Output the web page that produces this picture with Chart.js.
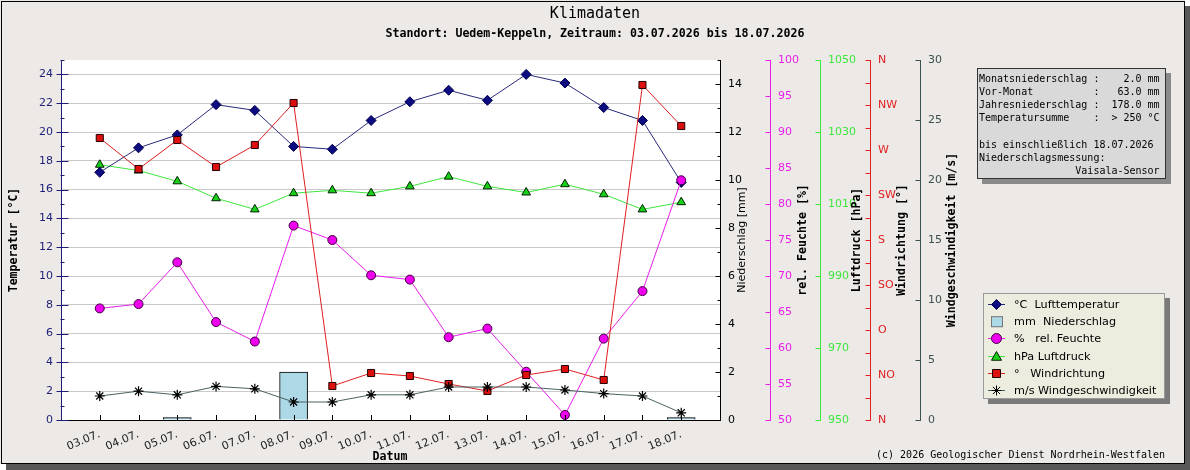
<!DOCTYPE html>
<html lang="de">
<head>
<meta charset="utf-8">
<title>Klimadaten</title>
<script src="https://cdn.jsdelivr.net/npm/chart.js@4.4.1/dist/chart.umd.min.js"></script>
<style>
  html, body { margin: 0; padding: 0; background: #fff; }
  #wrap { width: 1190px; height: 470px; }
</style>
</head>
<body>
<div id="wrap"><canvas id="klima" width="1190" height="470"></canvas></div>
<script>
// Tage
const tage = ["03.07.", "04.07.", "05.07.", "06.07.", "07.07.", "08.07.", "09.07.", "10.07.",
  "11.07.", "12.07.", "13.07.", "14.07.", "15.07.", "16.07.", "17.07.", "18.07."];

// Messwerte
const lufttemperatur = [17.2, 18.9, 19.8, 21.9, 21.5, 19.0, 18.8, 20.8, 22.1, 22.9, 22.2, 24.0, 23.4, 21.7, 20.8, 16.5];
const niederschlag = [0, 0, 0.1, 0, 0, 2.0, 0, 0, 0, 0, 0, 0, 0, 0, 0, 0.1];
const feuchte = [65.5, 66.1, 71.9, 63.6, 60.9, 77.0, 75.0, 70.1, 69.5, 61.5, 62.7, 56.7, 50.7, 61.3, 67.9, 83.3];
const luftdruck = [1020.9, 1019.3, 1016.3, 1011.6, 1008.5, 1013.0, 1013.8, 1013.0, 1014.9, 1017.6, 1014.9, 1013.2, 1015.5, 1012.7, 1008.5, 1010.5];
const windrichtung = [282, 251, 280, 253, 275, 317, 34, 47, 44, 36, 29, 45, 51, 40, 335, 294];
const windgeschw = [2.0, 2.4, 2.1, 2.8, 2.6, 1.5, 1.5, 2.1, 2.1, 2.75, 2.75, 2.75, 2.5, 2.2, 2.0, 0.6];

// Achsenbeschriftung Windrichtung
const richtungen = ["N", "NO", "O", "SO", "S", "SW", "W", "NW", "N"];

// Textkasten oben rechts
const infoZeilen = [
  "Monatsniederschlag :    2.0 mm",
  "Vor-Monat          :   63.0 mm",
  "Jahresniederschlag :  178.0 mm",
  "Temperatursumme    :  > 250 °C",
  "",
  "bis einschließlich 18.07.2026",
  "Niederschlagsmessung:",
  "                Vaisala-Sensor"
];

const MONO = '"DejaVu Sans Mono", "Liberation Mono", monospace';
const SANS = '"DejaVu Sans", Verdana, sans-serif';

//Farben
const cTemp = "#0c0c80";
const cFeuchte = "#e81ee8";
const cDruck = "#3ee63e";
const cRichtung = "#e02020";
const cWind = "#3c5050";

//Punkte als {x,y}, x = Tag 1..16
const punkte = (werte) => werte.map((v, i) => ({ x: i + 1, y: v }));

//kleine Zeichenhilfe fuer die Legendensymbole
function marker(ctx, style, x, y, r) {
  ctx.beginPath();
  if (style === "rectRot") {
    ctx.moveTo(x, y - r); ctx.lineTo(x + r, y); ctx.lineTo(x, y + r); ctx.lineTo(x - r, y);
    ctx.closePath(); ctx.fill(); ctx.stroke();
  } else if (style === "circle") {
    ctx.arc(x, y, r, 0, Math.PI * 2); ctx.fill(); ctx.stroke();
  } else if (style === "triangle") {
    ctx.moveTo(x, y - r); ctx.lineTo(x + r, y + r * 0.75); ctx.lineTo(x - r, y + r * 0.75);
    ctx.closePath(); ctx.fill(); ctx.stroke();
  } else if (style === "rect") {
    ctx.rect(x - r, y - r, 2 * r, 2 * r); ctx.fill(); ctx.stroke();
  } else if (style === "star") {
    ctx.moveTo(x - r, y); ctx.lineTo(x + r, y);
    ctx.moveTo(x, y - r); ctx.lineTo(x, y + r);
    const d = r * 0.72;
    ctx.moveTo(x - d, y - d); ctx.lineTo(x + d, y + d);
    ctx.moveTo(x - d, y + d); ctx.lineTo(x + d, y - d);
    ctx.stroke();
  }
}

function kasten(ctx, x, y, w, h, fill, border, shadow) {
  ctx.fillStyle = shadow;
  ctx.fillRect(x + 5, y + 5, w, h);
  ctx.fillStyle = fill;
  ctx.fillRect(x, y, w, h);
  ctx.strokeStyle = border;
  ctx.lineWidth = 1;
  ctx.strokeRect(x + 0.5, y + 0.5, w - 1, h - 1);
}

function senkrecht(ctx, text, x, y, font) {
  ctx.save();
  ctx.translate(x, y);
  ctx.rotate(-Math.PI / 2);
  ctx.font = font;
  ctx.fillStyle = "#000";
  ctx.textAlign = "center";
  ctx.textBaseline = "middle";
  ctx.fillText(text, 0, 0);
  ctx.restore();
}

const rahmen = {
  id: "rahmen",
  beforeDraw(chart) {
    const ctx = chart.ctx;
    const a = chart.chartArea;
    ctx.save();
    ctx.fillStyle = "#ffffff";
    ctx.fillRect(0, 0, 1190, 470);
    ctx.fillStyle = "#585858";
    ctx.fillRect(6, 6, 1184, 464);
    ctx.fillStyle = "#ece9e7";
    ctx.fillRect(0, 0, 1185, 464);
    ctx.strokeStyle = "#000";
    ctx.lineWidth = 1;
    ctx.strokeRect(1.5, 1.5, 1183, 462);
    ctx.fillStyle = "#ffffff";
    ctx.fillRect(a.left, a.top, a.right - a.left, a.bottom - a.top);
    ctx.restore();
  },
  afterDraw(chart) {
    const ctx = chart.ctx;
    const s = chart.scales;
    ctx.save();
    ctx.lineWidth = 1;

    //Teilstriche
    const striche = (scale, color, lang, kurz) => {
      ctx.strokeStyle = color;
      scale.ticks.forEach((t) => {
        const y = Math.round(scale.getPixelForValue(t.value)) + 0.5;
        const x0 = Math.round(scale.left) + 0.5;
        const l = t.label === "" ? kurz : lang;
        ctx.beginPath();
        ctx.moveTo(x0 - l, y);
        ctx.lineTo(x0, y);
        ctx.stroke();
      });
    };
    //linke Achse: Striche nach innen
    ctx.strokeStyle = "#1e1e78";
    s.yT.ticks.forEach((t) => {
      const y = Math.round(s.yT.getPixelForValue(t.value)) + 0.5;
      const x0 = Math.round(s.yT.right) - 0.5;
      ctx.beginPath();
      if (t.label === "") { ctx.moveTo(x0, y); ctx.lineTo(x0 + 4, y); }
      else { ctx.moveTo(x0 - 4, y); ctx.lineTo(x0 + 8, y); }
      ctx.stroke();
    });
    striche(s.yR, "#000", 5, 3);
    striche(s.yH, cFeuchte, 5, 5);
    striche(s.yP, cDruck, 5, 5);
    striche(s.yD, cRichtung, 5, 5);
    striche(s.yS, cWind, 5, 5);
    //x-Achse: Striche nach oben
    ctx.strokeStyle = "#000";
    tage.forEach((_, i) => {
      const x = Math.round(s.x.getPixelForValue(i + 1)) + 0.5;
      ctx.beginPath();
      ctx.moveTo(x, s.x.top);
      ctx.lineTo(x, s.x.top - 5);
      ctx.stroke();
    });

    //Achsentitel
    const fett = "bold 11.6px " + MONO;
    senkrecht(ctx, "Temperatur [°C]", 14, 240, fett);
    senkrecht(ctx, "Niederschlag [mm]", 742, 240, "11px " + SANS);
    senkrecht(ctx, "rel. Feuchte [%]", 803, 240, fett);
    senkrecht(ctx, "Luftdruck [hPa]", 857, 240, fett);
    senkrecht(ctx, "Windrichtung [°]", 902, 240, fett);
    senkrecht(ctx, "Windgeschwindigkeit [m/s]", 952, 240, fett);
    ctx.font = fett;
    ctx.fillStyle = "#000";
    ctx.textAlign = "center";
    ctx.textBaseline = "middle";
    ctx.fillText("Datum", 390, 457);

    //Titel
    ctx.font = "15px " + MONO;
    ctx.fillText("Klimadaten", 595, 14);
    ctx.font = fett;
    ctx.fillText("Standort: Uedem-Keppeln, Zeitraum: 03.07.2026 bis 18.07.2026", 595, 34);

    //Infokasten
    kasten(ctx, 977, 68, 189, 111, "#d9d9d9", "#333", "#8a8a8a");
    ctx.font = "10px " + MONO;
    ctx.fillStyle = "#000";
    ctx.textAlign = "left";
    infoZeilen.forEach((z, i) => ctx.fillText(z, 979, 79 + i * 13.2));

    //Legende
    kasten(ctx, 983, 293, 182, 106, "#ececdf", "#9a9a9a", "#7a7a7a");
    ctx.font = "11.2px " + SANS;
    chart.data.datasets.forEach((d, i) => {
      const y = 304 + i * 17.2;
      const cx = 996.5;
      if (d.type === "bar") {
        ctx.fillStyle = d.backgroundColor;
        ctx.strokeStyle = "#777";
        ctx.fillRect(991, y - 5, 12, 11);
        ctx.strokeRect(991.5, y - 4.5, 11, 10);
      } else {
        ctx.strokeStyle = d.borderColor;
        ctx.beginPath();
        ctx.moveTo(988, Math.round(y) + 0.5);
        ctx.lineTo(1005, Math.round(y) + 0.5);
        ctx.stroke();
        ctx.fillStyle = d.pointBackgroundColor;
        ctx.strokeStyle = d.pointBorderColor;
        marker(ctx, d.pointStyle, cx, Math.round(y) + 0.5, d.pointStyle === "rect" ? 4 : 5);
      }
      ctx.fillStyle = "#000";
      ctx.fillText(d.label, 1014, y + 1);
    });

    //Fusszeile
    ctx.font = "10px " + MONO;
    ctx.textAlign = "right";
    ctx.fillText("(c) 2026 Geologischer Dienst Nordrhein-Westfalen", 1165, 455);
    ctx.restore();
  }
};

const breite = (w) => (scale) => { scale.width = w; };
const rechts = (farbe, min, max, schritt, fmt) => ({
  type: "linear",
  position: "right",
  min: min,
  max: max,
  afterFit: breite(50),
  border: { color: farbe },
  grid: { drawOnChartArea: false, drawTicks: false },
  ticks: {
    stepSize: schritt,
    autoSkip: false,
    padding: 8,
    color: farbe,
    font: { family: SANS, size: 11 },
    callback: fmt
  }
});

new Chart(document.getElementById("klima"), {
  plugins: [rahmen],
  data: {
    datasets: [
      {
        type: "line", label: "°C  Lufttemperatur", data: punkte(lufttemperatur), yAxisID: "yT", order: 4,
        borderColor: "#2a2a7c", borderWidth: 1, pointStyle: "rectRot", pointRadius: 5,
        pointBackgroundColor: cTemp, pointBorderColor: "#000050", pointBorderWidth: 1
      },
      {
        type: "bar", label: "mm  Niederschlag", data: punkte(niederschlag.map((v) => (v > 0 ? v : null))), yAxisID: "yR", order: 10,
        backgroundColor: "#add8e6", borderColor: "#000", borderWidth: 1, barThickness: 28
      },
      {
        type: "line", label: "%   rel. Feuchte", data: punkte(feuchte), yAxisID: "yH", order: 3,
        borderColor: cFeuchte, borderWidth: 1, pointStyle: "circle", pointRadius: 4.5,
        pointBackgroundColor: "#ee00ee", pointBorderColor: "#400040", pointBorderWidth: 1
      },
      {
        type: "line", label: "hPa Luftdruck", data: punkte(luftdruck), yAxisID: "yP", order: 5,
        borderColor: cDruck, borderWidth: 1, pointStyle: "triangle", pointRadius: 5,
        pointBackgroundColor: "#18d018", pointBorderColor: "#002000", pointBorderWidth: 1
      },
      {
        type: "line", label: "°   Windrichtung", data: punkte(windrichtung), yAxisID: "yD", order: 2,
        borderColor: cRichtung, borderWidth: 1, pointStyle: "rect", pointRadius: 5,
        pointBackgroundColor: "#dd0e0e", pointBorderColor: "#200000", pointBorderWidth: 1
      },
      {
        type: "line", label: "m/s Windgeschwindigkeit", data: punkte(windgeschw), yAxisID: "yS", order: 1,
        borderColor: "#4a6262", borderWidth: 1, pointStyle: "star", pointRadius: 5,
        pointBackgroundColor: "#000", pointBorderColor: "#000", pointBorderWidth: 1.2
      }
    ]
  },
  options: {
    responsive: false,
    animation: false,
    layout: { padding: { top: 60, right: 220, left: 0, bottom: 0 } },
    plugins: {
      legend: { display: false },
      tooltip: { enabled: false },
      title: { display: false }
    },
    scales: {
      x: {
        type: "linear",
        min: 0,
        max: 17,
        offset: false,
        afterFit: (scale) => { scale.height = 50; },
        border: { color: "#000" },
        grid: { display: false, offset: false },
        ticks: {
          stepSize: 1,
          autoSkip: false,
          maxRotation: 22,
          minRotation: 22,
          padding: 0,
          color: "#222",
          font: { family: SANS, size: 11 },
          callback: (v) => tage[v - 1] || ""
        }
      },
      yT: {
        type: "linear",
        position: "left",
        min: 0,
        max: 25,
        afterFit: breite(61),
        border: { color: "#1e1e78" },
        grid: {
          drawTicks: false,
          color: (c) => (c.tick && c.tick.value % 2 === 0 && c.tick.value > 0 ? "#cacaca" : "rgba(0,0,0,0)")
        },
        ticks: {
          stepSize: 1,
          autoSkip: false,
          padding: 8,
          color: "#1e1e78",
          font: { family: SANS, size: 11 },
          callback: (v) => (v % 2 === 0 ? v : "")
        }
      },
      yR: rechts("#000", 0, 15, 1, (v) => (v % 2 === 0 ? v : "")),
      yH: rechts(cFeuchte, 50, 100, 5, (v) => v),
      yP: rechts(cDruck, 950, 1050, 20, (v) => v),
      yD: rechts(cRichtung, 0, 360, 22.5, (v) => (v % 45 === 0 ? richtungen[v / 45] : "")),
      yS: rechts(cWind, 0, 30, 5, (v) => v)
    }
  }
});
</script>
</body>
</html>
